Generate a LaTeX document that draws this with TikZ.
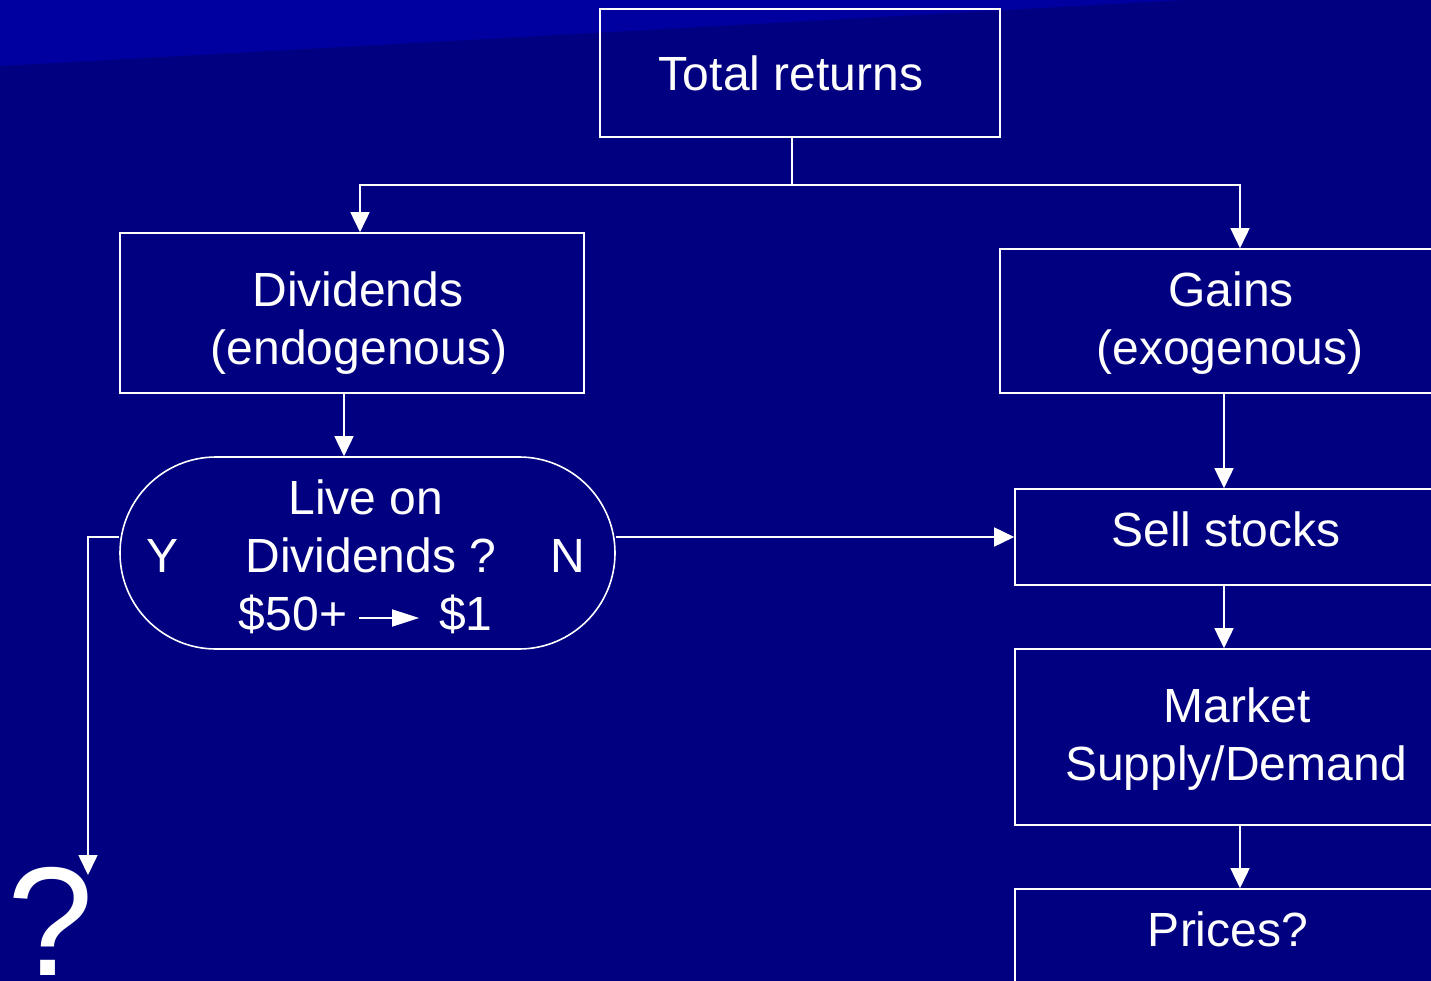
\documentclass[tikz,border=0pt]{standalone}
\usepackage{fontspec}
\setmainfont{Liberation Sans}
\usetikzlibrary{arrows.meta,shapes.misc}
\definecolor{bgnavy}{RGB}{0,0,128}
\definecolor{bgband}{RGB}{0,0,160}
\tikzset{
  box/.style={draw=white, line width=1.6pt, rectangle, inner sep=0pt},
  stadium/.style={draw=white, line width=1.6pt, rounded rectangle, inner sep=0pt},
  txt/.style={text=white, anchor=base, inner sep=0pt, font=\fontsize{48}{58}\selectfont},
  conn/.style={draw=white, line width=1.6pt},
  arr/.style={conn, -{Triangle[length=20pt,width=19pt]}},
  smallarr/.style={conn, -{Triangle[length=27pt,width=17pt]}}
}
\begin{document}
\begin{tikzpicture}[x=1pt,y=-1pt]
\useasboundingbox (0,0) rectangle (1431,981);
\clip (0,0) rectangle (1431,981);
\fill[bgnavy] (0,0) rectangle (1431,981);
\fill[bgband] (0,0) -- (1185,0) -- (0,66) -- cycle;

% boxes
\node[box, minimum width=400pt, minimum height=128pt] (tr) at (800,73) {};
\node[box, minimum width=464pt, minimum height=160pt] (div) at (352,313) {};
\node[box, minimum width=445pt, minimum height=144pt] (gains) at (1222.5,321) {};
\node[stadium, minimum width=495pt, minimum height=192pt] (live) at (367.5,553) {};
\node[box, minimum width=430pt, minimum height=96pt] (sell) at (1230,537) {};
\node[box, minimum width=430pt, minimum height=176pt] (market) at (1230,737) {};
\node[box, minimum width=430pt, minimum height=120pt] (prices) at (1230,949) {};

% texts
\node[txt] (tr-t) at (791,91) {Total returns};
\node[txt] (div-t1) at (358,306) {Dividends};
\node[txt] (div-t2) at (359,364) {(endogenous)};
\node[txt] (gains-t1) at (1231,306) {Gains};
\node[txt] (gains-t2) at (1230,364) {(exogenous)};
\node[txt] (live-t1) at (366,514) {Live on};
\node[txt] (live-t2) at (371,572) {Dividends ?};
\node[txt] (live-y) at (163,572) {Y};
\node[txt] (live-n) at (568,572) {N};
\node[txt] (d50) at (293,630) {\$50+};
\node[txt] (d1) at (466,630) {\$1};
\node[txt] (sell-t) at (1226,546) {Sell stocks};
\node[txt] (market-t1) at (1237,722) {Market};
\node[txt] (market-t2) at (1236,780) {Supply/Demand};
\node[txt] (prices-t) at (1228,946) {Prices?};
\node[text=white, anchor=base, inner sep=0pt, font=\fontsize{155}{160}\selectfont] (qm) at (51,975) {?};

% helper coordinates
\coordinate (top) at (792,185);
\coordinate (ja) at (360,185);
\coordinate (jb) at (1240,185);
\coordinate (dx) at (344,0);
\coordinate (gx) at (1224,0);
\coordinate (mx) at (1240,0);
\coordinate (yl) at (88,537);
\coordinate (qtip) at (88,875);

% connectors
\draw[conn] (tr.south -| top) -- (top);
\draw[arr] (top) -- (ja) -- (div.north -| ja);
\draw[arr] (top) -- (jb) -- (gains.north -| jb);
\draw[arr] (div.south -| dx) -- (live.north -| dx);
\draw[arr] (gains.south -| gx) -- (sell.north -| gx);
\draw[arr] (sell.south -| gx) -- (market.north -| gx);
\draw[arr] (market.south -| mx) -- (prices.north -| mx);
\draw[arr] (live.east |- sell.west) -- (sell.west);
\draw[arr] (live.west |- yl) -- (yl) -- (qtip);
\draw[smallarr] ([xshift=12pt,yshift=12pt]d50.base east) -- ([xshift=-20pt,yshift=12pt]d1.base west);
\end{tikzpicture}
\end{document}
